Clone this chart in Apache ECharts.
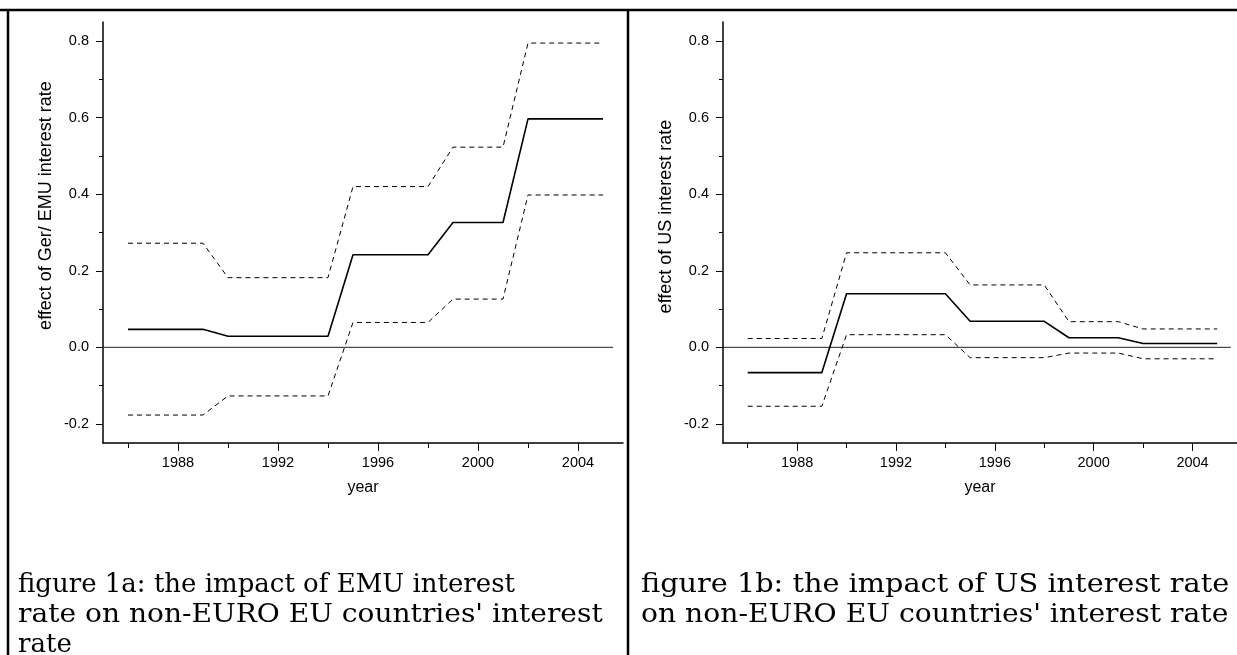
<!DOCTYPE html>
<html>
<head>
<meta charset="utf-8">
<title>figure 1a / 1b</title>
<script src="https://cdn.jsdelivr.net/npm/echarts@6/dist/echarts.min.js"></script>
<style>
  html, body { margin: 0; padding: 0; background: #fff; }
  #chart { width: 1237px; height: 655px; }
</style>
</head>
<body>
<div id="chart"></div>
<script>
  // years on the x axis
  var years = [1986, 1987, 1988, 1989, 1990, 1991, 1992, 1993, 1994, 1995,
               1996, 1997, 1998, 1999, 2000, 2001, 2002, 2003, 2004, 2005];

  // figure 1a: effect of Ger/EMU interest rate
  var emuMid   = [0.047, 0.047, 0.047, 0.047, 0.029, 0.029, 0.029, 0.029, 0.029, 0.242,
                  0.242, 0.242, 0.242, 0.326, 0.326, 0.326, 0.597, 0.597, 0.597, 0.597];
  var emuUpper = [0.272, 0.272, 0.272, 0.272, 0.182, 0.182, 0.182, 0.182, 0.182, 0.420,
                  0.420, 0.420, 0.420, 0.523, 0.523, 0.523, 0.795, 0.795, 0.795, 0.795];
  var emuLower = [-0.177, -0.177, -0.177, -0.177, -0.127, -0.127, -0.127, -0.127, -0.127, 0.065,
                  0.065, 0.065, 0.065, 0.126, 0.126, 0.126, 0.398, 0.398, 0.398, 0.398];

  // figure 1b: effect of US interest rate
  var usMid   = [-0.066, -0.066, -0.066, -0.066, 0.140, 0.140, 0.140, 0.140, 0.140, 0.068,
                 0.068, 0.068, 0.068, 0.025, 0.025, 0.025, 0.010, 0.010, 0.010, 0.010];
  var usUpper = [0.023, 0.023, 0.023, 0.023, 0.247, 0.247, 0.247, 0.247, 0.247, 0.163,
                 0.163, 0.163, 0.163, 0.067, 0.067, 0.067, 0.048, 0.048, 0.048, 0.048];
  var usLower = [-0.154, -0.154, -0.154, -0.154, 0.033, 0.033, 0.033, 0.033, 0.033, -0.027,
                 -0.027, -0.027, -0.027, -0.015, -0.015, -0.015, -0.030, -0.030, -0.030, -0.030];

  // ticks
  var yLabelTicks = [-0.2, 0, 0.2, 0.4, 0.6, 0.8];
  var yMinorTicks = [-0.1, 0.1, 0.3, 0.5, 0.7];
  var xLabelTicks = [1988, 1992, 1996, 2000, 2004];
  var xMinorTicks = [1986, 1990, 1994, 1998, 2002];

  // x extent and end of the zero reference line, per panel
  var xMin = 1985, xMax = 2005.8;
  var zeroLineEnd = [2005.4, 2005.55];

  var yNames = ['effect of Ger/ EMU interest rate', 'effect of US interest rate'];
  var captionA = ['figure 1a: the impact of EMU interest',
                  "rate on non-EURO EU countries' interest",
                  'rate'];
  var captionB = ['figure 1b: the impact of US interest rate',
                  "on non-EURO EU countries' interest rate"];

  var sans = '"Liberation Sans", Arial, sans-serif';
  var serif = '"DejaVu Serif", serif';

  function pairs(vals) {
    return years.map(function (y, i) { return [y, vals[i]]; });
  }

  function xAxes(g) {
    var base = {
      type: 'value', gridIndex: g, position: 'bottom', min: xMin, max: xMax,
      splitLine: { show: false }
    };
    return [
      Object.assign({}, base, {
        name: 'year', nameLocation: 'middle', nameGap: 37,
        nameTextStyle: { fontFamily: sans, fontSize: 16, color: '#000' },
        axisLine: { onZero: false, lineStyle: { color: '#000', width: 1.5 } },
        axisTick: { length: 8, customValues: xLabelTicks, lineStyle: { color: '#000', width: 1 } },
        axisLabel: {
          customValues: xLabelTicks, margin: 12, fontFamily: sans, fontSize: 14.5, color: '#000',
          formatter: function (v) { return String(v); }
        }
      }),
      Object.assign({}, base, {
        axisLine: { show: false, onZero: false },
        axisTick: { length: 5, customValues: xMinorTicks, lineStyle: { color: '#000', width: 1 } },
        axisLabel: { show: false }
      })
    ];
  }

  // padding moves the rotated names up to where they sit in the original
  var yNameShift = [54, 32];

  function yAxes(g) {
    var base = {
      type: 'value', gridIndex: g, position: 'left', min: -0.25, max: 0.85,
      splitLine: { show: false }
    };
    return [
      Object.assign({}, base, {
        name: yNames[g], nameLocation: 'middle', nameGap: 48,
        nameTextStyle: { fontFamily: sans, fontSize: 18, color: '#000', padding: [0, 0, 0, yNameShift[g]] },
        axisLine: { show: true, onZero: false, lineStyle: { color: '#000', width: 1.5 } },
        axisTick: { length: 7, customValues: yLabelTicks, lineStyle: { color: '#000', width: 1 } },
        axisLabel: {
          customValues: yLabelTicks, margin: 14, fontFamily: sans, fontSize: 14.5, color: '#000',
          formatter: function (v) { return v.toFixed(1); }
        }
      }),
      Object.assign({}, base, {
        axisLine: { show: false, onZero: false },
        axisTick: { length: 4, customValues: yMinorTicks, lineStyle: { color: '#000', width: 1 } },
        axisLabel: { show: false }
      })
    ];
  }

  function panelSeries(g, mid, upper, lower) {
    var ax = g * 2;
    var common = { type: 'line', xAxisIndex: ax, yAxisIndex: ax, symbol: 'none', silent: true, animation: false };
    return [
      Object.assign({}, common, {
        data: [[xMin, 0], [zeroLineEnd[g], 0]],
        lineStyle: { color: '#222', width: 1 }
      }),
      Object.assign({}, common, {
        data: pairs(upper),
        lineStyle: { color: '#000', width: 1, type: [5, 4] }
      }),
      Object.assign({}, common, {
        data: pairs(lower),
        lineStyle: { color: '#000', width: 1, type: [5, 4] }
      }),
      Object.assign({}, common, {
        data: pairs(mid),
        lineStyle: { color: '#000', width: 1.6 }
      })
    ];
  }

  // caption lines; the justified ones get stretched a little (LaTeX style)
  function captionLine(text, x, row, stretch) {
    return {
      type: 'text', x: x, y: 572 + row * 30, scaleX: stretch || 1,
      style: { text: text, font: '26px ' + serif, fill: '#000' }
    };
  }

  var chart = echarts.init(document.getElementById('chart'));
  chart.setOption({
    backgroundColor: '#fff',
    animation: false,
    grid: [
      { left: 103, top: 22, width: 520, height: 421 },
      { left: 723, top: 22, width: 514, height: 421 }
    ],
    xAxis: xAxes(0).concat(xAxes(1)),
    yAxis: yAxes(0).concat(yAxes(1)),
    series: panelSeries(0, emuMid, emuUpper, emuLower)
      .concat(panelSeries(1, usMid, usUpper, usLower)),
    graphic: [
      { type: 'line', shape: { x1: 0, y1: 10, x2: 1237, y2: 10 }, style: { stroke: '#000', lineWidth: 2.5 } },
      { type: 'line', shape: { x1: 8, y1: 9, x2: 8, y2: 655 }, style: { stroke: '#000', lineWidth: 2.5 } },
      { type: 'line', shape: { x1: 628, y1: 9, x2: 628, y2: 655 }, style: { stroke: '#000', lineWidth: 2.5 } },
      captionLine(captionA[0], 18, 0, 1),
      captionLine(captionA[1], 18, 1, 1.08),
      captionLine(captionA[2], 18, 2, 1),
      captionLine(captionB[0], 641, 0, 1.105),
      captionLine(captionB[1], 641, 1, 1.085)
    ]
  });
</script>
</body>
</html>
